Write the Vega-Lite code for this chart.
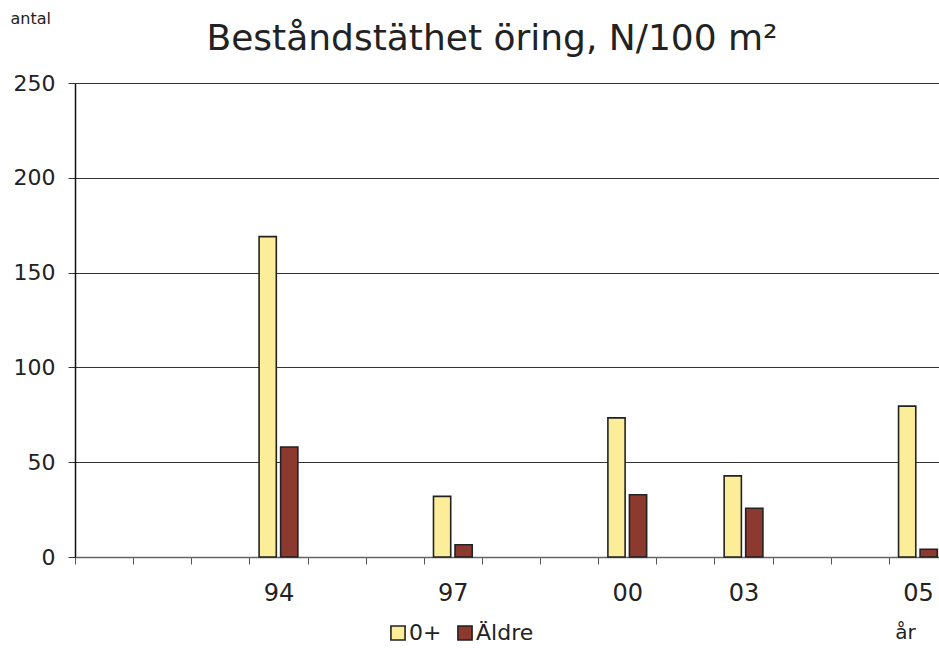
{
  "$schema": "https://vega.github.io/schema/vega-lite/v6.json",
  "width": 864,
  "height": 474,
  "autosize": {"type": "none"},
  "padding": {"left": 75, "top": 83, "right": 0, "bottom": 91},
  "background": "white",
  "title": {
    "text": "Beståndstäthet öring, N/100 m²",
    "font": "DejaVu Sans",
    "fontSize": 36,
    "fontWeight": "normal",
    "color": "#222222",
    "anchor": "middle",
    "frame": "group",
    "dx": -15,
    "offset": -48
  },
  "data": {
    "values": [
      {"pos": 4, "serie": "0+", "antal": 169},
      {"pos": 4, "serie": "Äldre", "antal": 58},
      {"pos": 7, "serie": "0+", "antal": 32},
      {"pos": 7, "serie": "Äldre", "antal": 6.5},
      {"pos": 10, "serie": "0+", "antal": 73.4},
      {"pos": 10, "serie": "Äldre", "antal": 32.8},
      {"pos": 12, "serie": "0+", "antal": 42.8},
      {"pos": 12, "serie": "Äldre", "antal": 25.7},
      {"pos": 15, "serie": "0+", "antal": 79.6},
      {"pos": 15, "serie": "Äldre", "antal": 4.1}
    ]
  },
  "mark": {"type": "bar", "stroke": "#222222", "strokeWidth": 1.6},
  "encoding": {
    "x": {
      "field": "pos",
      "type": "ordinal",
      "scale": {"domain": [1,2,3,4,5,6,7,8,9,10,11,12,13,14,15], "paddingInner": 0, "paddingOuter": 0, "range": [0, 872]},
      "axis": {
        "title": "år",
        "titleFont": "DejaVu Sans",
        "titleFontSize": 20,
        "titleFontWeight": "normal",
        "titleColor": "#222222",
        "titleAnchor": null,
        "titleX": 830,
        "titleY": 75,
        "titleBaseline": "middle",
        "titleAlign": "center",
        "labelAngle": 0,
        "labelExpr": "datum.value == 4 ? '94' : datum.value == 7 ? '97' : datum.value == 10 ? '00' : datum.value == 12 ? '03' : datum.value == 15 ? '05' : ''",
        "labelFont": "DejaVu Sans",
        "labelFontSize": 24,
        "labelColor": "#222222",
        "labelPadding": 17,
        "tickBand": "extent",
        "tickSize": 7,
        "tickColor": "#555555",
        "domainColor": "#666666",
        "domainWidth": 1.5,
        "grid": false
      }
    },
    "xOffset": {
      "field": "serie",
      "type": "nominal",
      "sort": ["0+", "Äldre"],
      "scale": {"paddingInner": 0.2, "paddingOuter": 0.45}
    },
    "y": {
      "field": "antal",
      "type": "quantitative",
      "scale": {"domain": [0, 250]},
      "axis": {
        "values": [0, 50, 100, 150, 200, 250],
        "title": "antal",
        "titleFont": "DejaVu Sans",
        "titleFontSize": 16,
        "titleFontWeight": "normal",
        "titleColor": "#222222",
        "titleAngle": 0,
        "titleAnchor": null,
        "titleX": -65,
        "titleY": -60,
        "titleAlign": "left",
        "titleBaseline": "alphabetic",
        "labelFont": "DejaVu Sans",
        "labelFontSize": 22,
        "labelColor": "#222222",
        "labelPadding": 13,
        "tickSize": 7,
        "tickColor": "#333333",
        "domainColor": "#111111",
        "domainWidth": 1.5,
        "gridColor": "#333333",
        "gridWidth": 1.2,
        "gridOpacity": 1
      }
    },
    "fill": {
      "field": "serie",
      "type": "nominal",
      "sort": ["0+", "Äldre"],
      "scale": {"domain": ["0+", "Äldre"], "range": ["#FCEE98", "#8C3A30"]},
      "legend": {
        "title": null,
        "orient": "none",
        "direction": "horizontal",
        "legendX": 312,
        "legendY": 539,
        "symbolType": "square",
        "symbolSize": 200,
        "symbolStrokeColor": "#222222",
        "symbolStrokeWidth": 1.6,
        "labelFont": "DejaVu Sans",
        "labelFontSize": 22,
        "labelColor": "#222222",
        "labelOffset": 0,
        "columnPadding": 12
      }
    }
  },
  "config": {
    "view": {"stroke": null}
  }
}
